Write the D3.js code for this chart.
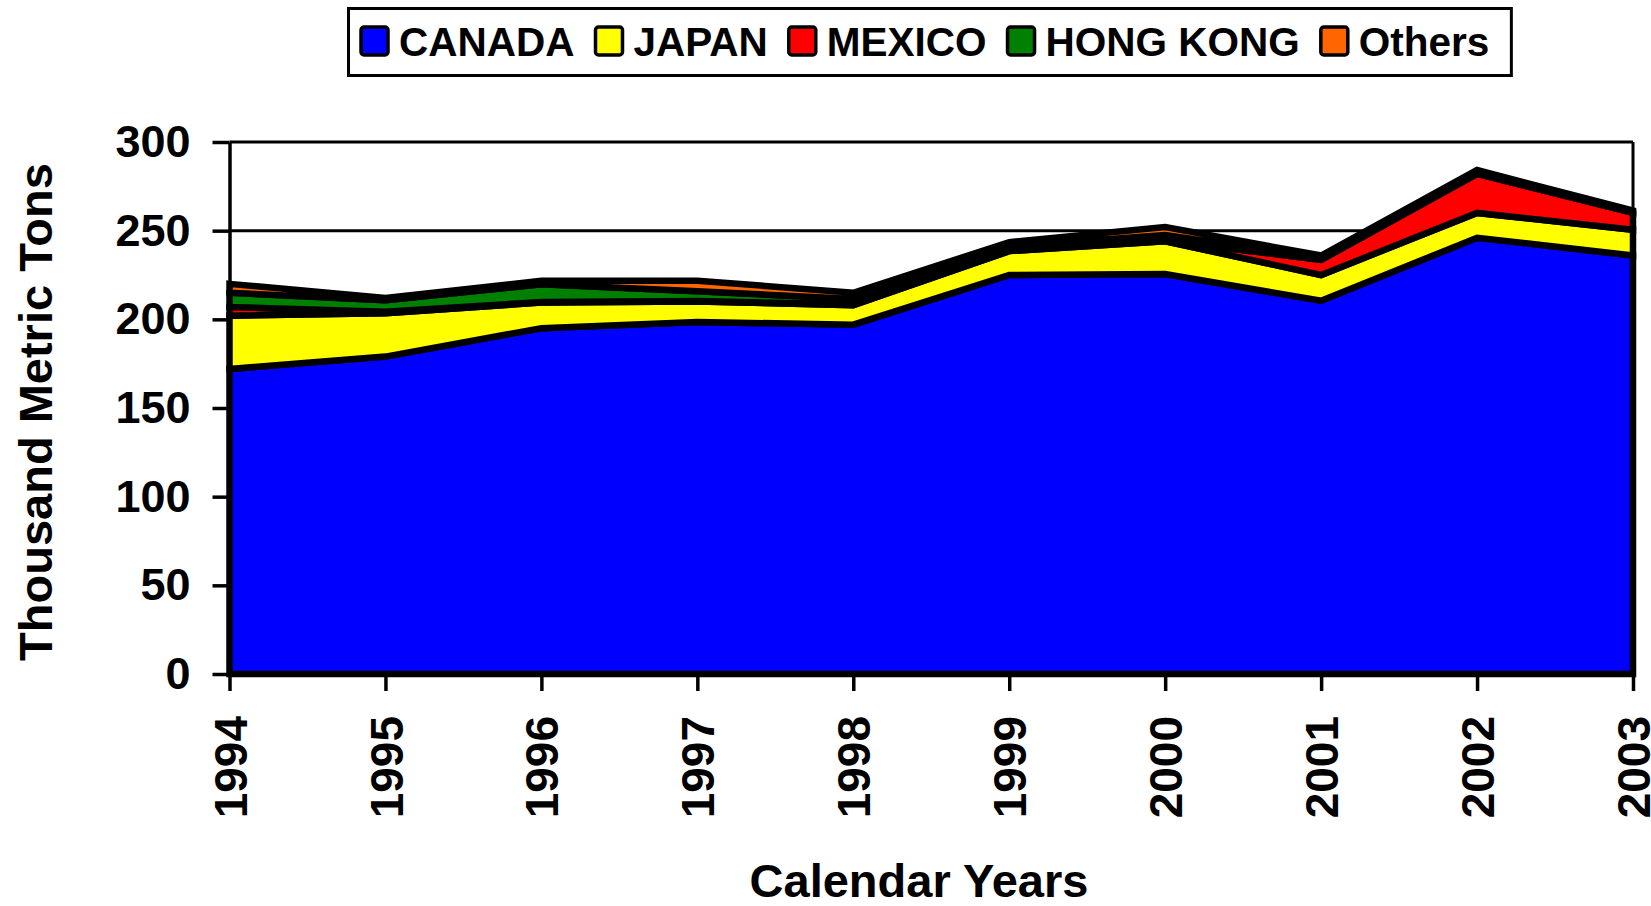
<!DOCTYPE html>
<html>
<head>
<meta charset="utf-8">
<script src="https://cdn.jsdelivr.net/npm/d3@7"></script>
<style>
  body { margin: 0; background: #fff; }
  svg { display: block; font-family: "Liberation Sans", Arial, sans-serif; font-weight: bold; }
</style>
</head>
<body>
<div id="chart"></div>
<script>
// data (thousand metric tons)
var years = ["1994", "1995", "1996", "1997", "1998", "1999", "2000", "2001", "2002", "2003"];
var canada   = [172, 179, 195, 198.5, 197, 225, 225.5, 210.5, 246, 236];
var japan    = [30, 24.5, 14.5, 11.5, 11, 13.5, 18.5, 14.5, 14, 14.5];
var mexico   = [5, 0.8, 0.3, 0.3, 0.5, 0.5, 0.5, 8.5, 22, 9.5];
var hongKong = [8, 6.5, 10, 5.5, 3, 2, 3, 1, 1, 0.5];
var others   = [5, 1.2, 2, 6, 3.5, 2.5, 4.5, 1.5, 1.2, 0.8];
var seriesNames = ["CANADA", "JAPAN", "MEXICO", "HONG KONG", "Others"];
var seriesColors = ["#0000ff", "#ffff00", "#ff0000", "#008000", "#ff6600"];
var yTicks = [0, 50, 100, 150, 200, 250, 300];

//chart parameters
var width = 1651;
var height = 906;
var plot = {left: 229.5, right: 1633, top: 142, bottom: 674};

var svg = d3.select("#chart")
  .append("svg")
  .attr("width", width)
  .attr("height", height);

// build rows for the stack
var seriesValues = [canada, japan, mexico, hongKong, others];
var table = years.map(function(y, i) {
  var row = {year: y};
  seriesNames.forEach(function(name, j) { row[name] = seriesValues[j][i]; });
  return row;
});

var x = d3.scalePoint()
  .domain(years)
  .range([plot.left, plot.right]);

var y = d3.scaleLinear()
  .domain([0, 300])
  .range([plot.bottom, plot.top]);

var stacked = d3.stack().keys(seriesNames)(table);

//gridlines + frame
svg.append("g")
  .selectAll("line")
  .data(yTicks.filter(function(d) { return d > 0; }))
  .enter().append("line")
  .attr("x1", plot.left).attr("x2", plot.right)
  .attr("y1", function(d) { return y(d); })
  .attr("y2", function(d) { return y(d); })
  .attr("stroke", "#000")
  .attr("stroke-width", 3);

svg.append("line")
  .attr("x1", plot.right).attr("x2", plot.right)
  .attr("y1", plot.top).attr("y2", plot.bottom)
  .attr("stroke", "#000").attr("stroke-width", 3);

var area = d3.area()
  .x(function(d) { return x(d.data.year); })
  .y0(function(d) { return y(d[0]); })
  .y1(function(d) { return y(d[1]); });

svg.append("g")
  .selectAll("path")
  .data(stacked)
  .enter().append("path")
  .attr("d", area)
  .attr("fill", function(d, i) { return seriesColors[i]; })
  .attr("stroke", "#000")
  .attr("stroke-width", 6.5)
  .attr("stroke-linejoin", "miter");

//y axis
var yAxis = d3.axisLeft(y)
  .tickValues(yTicks)
  .tickSizeInner(17)
  .tickSizeOuter(0)
  .tickPadding(22);

var gy = svg.append("g")
  .attr("transform", "translate(" + plot.left + ",0)")
  .call(yAxis);
gy.select(".domain").attr("stroke-width", 3.5);
gy.selectAll(".tick line").attr("stroke-width", 3.5);
gy.selectAll(".tick text")
  .attr("font-size", 45)
  .attr("font-family", "Liberation Sans, Arial, sans-serif")
  .attr("font-weight", "bold")
  .attr("fill", "#000");

//x axis
var xAxis = d3.axisBottom(x)
  .tickSizeInner(17)
  .tickSizeOuter(0)
  .tickPadding(10);

var gx = svg.append("g")
  .attr("transform", "translate(0," + plot.bottom + ")")
  .call(xAxis);
gx.select(".domain").remove();
gx.selectAll(".tick line").attr("stroke-width", 3.5);
gx.selectAll(".tick text")
  .attr("font-size", 46)
  .attr("font-family", "Liberation Sans, Arial, sans-serif")
  .attr("font-weight", "bold")
  .attr("fill", "#000")
  .attr("text-anchor", "end")
  .attr("transform", "rotate(-90)")
  .attr("x", -42)
  .attr("y", 0)
  .attr("dy", "0.36em");

//axis titles
svg.append("text")
  .attr("transform", "translate(52,412) rotate(-90)")
  .attr("text-anchor", "middle")
  .attr("font-size", 47)
  .text("Thousand Metric Tons");

svg.append("text")
  .attr("x", 919)
  .attr("y", 897)
  .attr("text-anchor", "middle")
  .attr("font-size", 47)
  .text("Calendar Years");

//legend
var legend = svg.append("g");
var box = legend.append("rect")
  .attr("x", 348.5).attr("y", 8.5)
  .attr("height", 67)
  .attr("fill", "#fff")
  .attr("stroke", "#000")
  .attr("stroke-width", 3);

var lx = 361;
var textEnd = lx;
seriesNames.forEach(function(name, i) {
  legend.append("rect")
    .attr("x", lx).attr("y", 27)
    .attr("width", 27).attr("height", 28)
    .attr("rx", 3)
    .attr("fill", seriesColors[i])
    .attr("stroke", "#000")
    .attr("stroke-width", 3.5);
  var t = legend.append("text")
    .attr("x", lx + 38)
    .attr("y", 56)
    .attr("font-size", 40.5)
    .text(name);
  textEnd = lx + 38 + t.node().getComputedTextLength();
  lx = textEnd + 21;
});
box.attr("width", textEnd + 22 - 348.5);
</script>
</body>
</html>
